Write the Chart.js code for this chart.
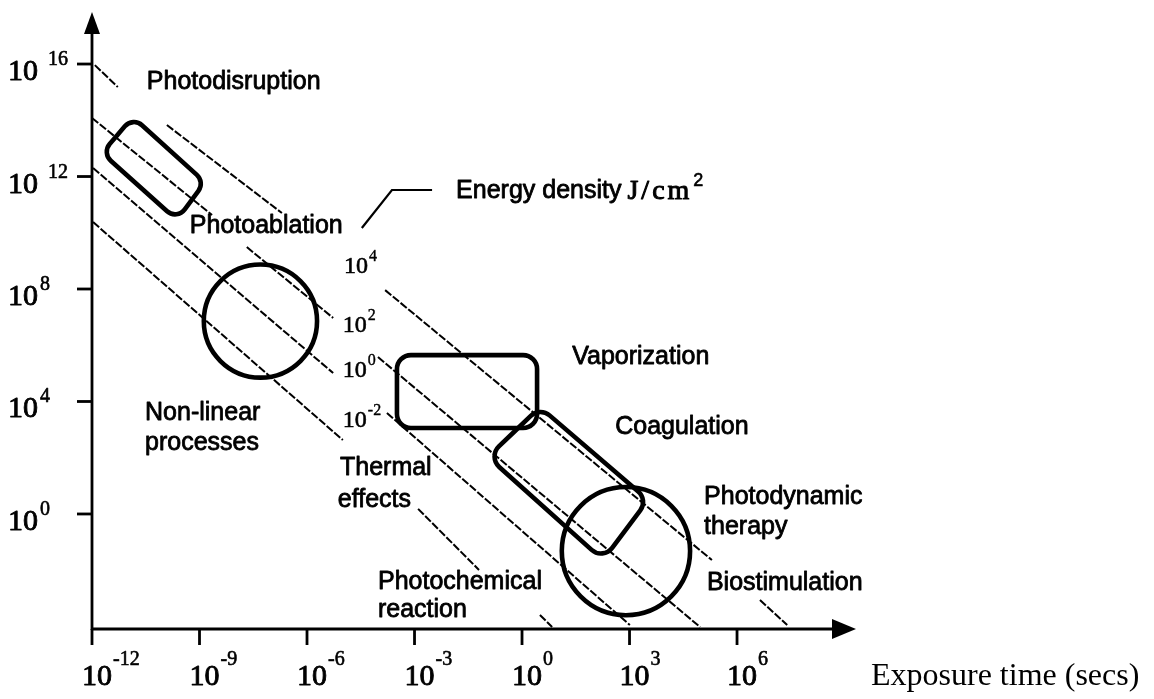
<!DOCTYPE html>
<html lang="en">
<head>
<meta charset="UTF-8" />
<title>Laser-tissue interactions</title>
<script src="https://cdn.jsdelivr.net/npm/chart.js"></script>
<style>
  html, body { margin: 0; padding: 0; background: #fff; }
</style>
</head>
<body>
<canvas id="grafico" width="1154" height="699"></canvas>

<script>
  // 1. Dados (todos em log10)
  const tempoTicks = [-12, -9, -6, -3, 0, 3, 6]
  const potenciaTicks = [0, 4, 8, 12, 16]
  const tempoMin = -12
  const tempoMax = 9.32
  const potenciaMin = -4.09
  const potenciaMax = 17.85

  // linhas de energia constante: [t1, p1, t2, p2]
  const linhasEnergia = [
    [-11.92, 15.96, -11.28, 15.18],
    [-9.91, 13.83, -6.70, 10.70],
    [-12.0, 14.08, -8.65, 10.63],
    [-7.68, 9.49, -5.27, 6.97],
    [-11.97, 12.30, -5.27, 5.01],
    [-11.97, 10.38, -5.00, 2.63],
    [-3.82, 7.96, 5.30, -1.64],
    [6.64, -3.06, 7.40, -3.95],
    [-4.02, 5.58, 4.97, -4.02],
    [-3.77, 3.59, 3.01, -3.95],
    [-2.90, 0.18, -1.20, -1.99],
    [0.50, -3.59, 0.84, -4.02]
  ]
  // linha indicadora de "Energy density"
  const linhaIndicador = [[-4.47, 10.17], [-3.63, 11.52], [-2.51, 11.52]]

  const energiaExpoentes = ["4", "2", "0", "-2"]
  const energiaPos = [[-4.97, 8.57], [-5.00, 6.47], [-5.00, 4.87], [-5.00, 3.09]]

  // caixas arredondadas (cantos em log10)
  const caixaFotoablacao = [[-10.86, 14.12], [-8.85, 11.80], [-9.63, 10.45], [-11.72, 12.84]]
  const caixaVaporizacao = [[-3.49, 5.65], [0.42, 5.65], [0.42, 3.06], [-3.49, 3.06]]
  const caixaCoagulacao = [[0.50, 3.80], [3.52, 0.50], [2.26, -1.64], [-0.95, 2.03]]

  // circulos: [t centro, p centro, raio em decadas de t, raio em decadas de p]
  const circuloNaoLinear = [-7.30, 6.86, 1.58, 2.01]
  const circuloFotodinamica = [2.90, -1.32, 1.79, 2.28]

  const rotulos = ["Photodisruption", "Photoablation", "Non-linear", "processes", "Vaporization",
    "Coagulation", "Thermal", "effects", "Photochemical", "reaction", "Photodynamic", "therapy", "Biostimulation"]
  const rotulosPos = [[-10.47, 15.36], [-9.27, 10.24], [-10.52, 3.59], [-10.52, 2.52], [1.40, 5.58],
    [2.60, 3.09], [-5.08, 1.64], [-5.14, 0.50], [-4.02, -2.42], [-4.02, -3.41], [5.08, 0.60], [5.08, -0.46], [5.16, -2.45]]

  // 2. Datasets das linhas
  const datasets = []
  for (let i = 0; i < linhasEnergia.length; i++) {
    const l = linhasEnergia[i]
    datasets.push({
      data: [{ x: l[0], y: l[1] }, { x: l[2], y: l[3] }],
      showLine: true,
      borderColor: "#000",
      borderWidth: 2,
      borderDash: [8, 2],
      pointRadius: 0
    })
  }
  datasets.push({
    data: linhaIndicador.map(function (p) { return { x: p[0], y: p[1] } }),
    showLine: true,
    borderColor: "#000",
    borderWidth: 2.2,
    pointRadius: 0
  })

  const SANS = "'Liberation Sans', Arial, sans-serif"
  const SERIF = "'Liberation Serif', 'Times New Roman', serif"

  function caixaArredondada(ctx, pts, r) {
    const n = pts.length
    ctx.beginPath()
    ctx.moveTo((pts[n - 1].x + pts[0].x) / 2, (pts[n - 1].y + pts[0].y) / 2)
    for (let i = 0; i < n; i++) {
      const p = pts[i]
      const q = pts[(i + 1) % n]
      ctx.arcTo(p.x, p.y, q.x, q.y, r)
    }
    ctx.closePath()
    ctx.stroke()
  }

  // texto "engrossado" para imitar a digitalizacao
  function texto(ctx, s, x, y, peso) {
    ctx.fillText(s, x, y)
    ctx.lineWidth = peso
    ctx.strokeText(s, x, y)
  }

  // 3. Plugin que desenha eixos, formas e textos
  const desenhos = {
    id: "desenhos",
    afterDatasetsDraw: function (chart) {
      const ctx = chart.ctx
      const xs = chart.scales.x
      const ys = chart.scales.y
      const px = function (v) { return xs.getPixelForValue(v) }
      const py = function (v) { return ys.getPixelForValue(v) }
      const eixoX = px(tempoMin)
      const eixoY = py(potenciaMin)
      const topo = py(potenciaMax)
      const fim = px(tempoMax)

      ctx.save()
      ctx.strokeStyle = "#000"
      ctx.fillStyle = "#000"
      ctx.lineCap = "round"
      ctx.lineJoin = "round"

      // formas
      ctx.lineWidth = 4.6
      const caixas = [[caixaFotoablacao, 12], [caixaVaporizacao, 14], [caixaCoagulacao, 14]]
      for (let i = 0; i < caixas.length; i++) {
        const pts = caixas[i][0].map(function (c) { return { x: px(c[0]), y: py(c[1]) } })
        caixaArredondada(ctx, pts, caixas[i][1])
      }
      const circulos = [circuloNaoLinear, circuloFotodinamica]
      for (let i = 0; i < circulos.length; i++) {
        const c = circulos[i]
        const cx = px(c[0])
        const cy = py(c[1])
        ctx.beginPath()
        ctx.ellipse(cx, cy, px(c[0] + c[2]) - cx, cy - py(c[1] + c[3]), 0, 0, Math.PI * 2)
        ctx.stroke()
      }

      // eixos
      ctx.lineWidth = 2.8
      ctx.lineCap = "butt"
      ctx.beginPath()
      ctx.moveTo(eixoX, eixoY + 1)
      ctx.lineTo(eixoX, topo + 15)
      ctx.moveTo(eixoX - 1, eixoY)
      ctx.lineTo(fim - 15, eixoY)
      ctx.stroke()
      ctx.beginPath()
      ctx.moveTo(eixoX, topo)
      ctx.lineTo(eixoX - 8, topo + 22)
      ctx.lineTo(eixoX + 8, topo + 22)
      ctx.closePath()
      ctx.fill()
      ctx.beginPath()
      ctx.moveTo(fim, eixoY)
      ctx.lineTo(fim - 24, eixoY - 10)
      ctx.lineTo(fim - 24, eixoY + 10)
      ctx.closePath()
      ctx.fill()

      // ticks e rotulos do eixo x
      ctx.textBaseline = "alphabetic"
      ctx.textAlign = "left"
      for (let i = 0; i < tempoTicks.length; i++) {
        const tx = px(tempoTicks[i])
        ctx.lineWidth = 2.8
        ctx.beginPath()
        ctx.moveTo(tx, eixoY)
        ctx.lineTo(tx, eixoY + 16)
        ctx.stroke()
        ctx.font = "30px " + SERIF
        texto(ctx, "10", tx - 10, eixoY + 56, 0.9)
        const w = ctx.measureText("10").width
        ctx.font = "20px " + SERIF
        texto(ctx, String(tempoTicks[i]), tx - 10 + w + 1, eixoY + 36, 0.6)
      }

      // ticks e rotulos do eixo y
      for (let i = 0; i < potenciaTicks.length; i++) {
        const ty = py(potenciaTicks[i])
        ctx.lineWidth = 2.8
        ctx.beginPath()
        ctx.moveTo(eixoX - 15, ty)
        ctx.lineTo(eixoX, ty)
        ctx.stroke()
        ctx.font = "30px " + SERIF
        texto(ctx, "10", eixoX - 84, ty + 16, 0.9)
        const w = ctx.measureText("10").width
        ctx.font = "20px " + SERIF
        const gap = potenciaTicks[i] >= 10 ? 10 : 2
        texto(ctx, String(potenciaTicks[i]), eixoX - 84 + w + gap, ty + 1, 0.6)
      }

      ctx.font = "32px " + SERIF
      ctx.fillText("Exposure time (secs)", 871, eixoY + 56)

      // rotulos de energia
      for (let i = 0; i < energiaExpoentes.length; i++) {
        const x = px(energiaPos[i][0])
        const y = py(energiaPos[i][1])
        ctx.font = "24px " + SERIF
        texto(ctx, "10", x, y, 0.6)
        const w = ctx.measureText("10").width
        ctx.font = "16px " + SERIF
        texto(ctx, energiaExpoentes[i], x + w + 1, y - 12, 0.4)
      }

      // rotulos das regioes
      ctx.textBaseline = "middle"
      ctx.font = "25px " + SANS
      for (let i = 0; i < rotulos.length; i++) {
        texto(ctx, rotulos[i], px(rotulosPos[i][0]), py(rotulosPos[i][1]), 0.8)
      }

      // Energy density J/cm2
      const ex = px(-1.84)
      const ey = py(11.48)
      texto(ctx, "Energy density", ex, ey, 0.8)
      const we = ctx.measureText("Energy density").width
      ctx.font = "28px " + SERIF
      ctx.letterSpacing = "3px"
      texto(ctx, "J/cm", ex + we + 6, ey + 1, 1)
      const wj = ctx.measureText("J/cm").width
      ctx.letterSpacing = "0px"
      ctx.font = "18px " + SANS
      texto(ctx, "2", ex + we + 6 + wj + 1, ey - 10, 0.6)

      ctx.restore()
    }
  }

  // 4. Grafico
  new Chart(document.getElementById("grafico").getContext("2d"), {
    type: "scatter",
    data: { datasets: datasets },
    options: {
      responsive: false,
      animation: false,
      layout: { padding: { left: 92, right: 298, top: 12, bottom: 70 } },
      scales: {
        x: { type: "linear", min: tempoMin, max: tempoMax, display: false },
        y: { type: "linear", min: potenciaMin, max: potenciaMax, display: false }
      },
      plugins: { legend: { display: false }, tooltip: { enabled: false } }
    },
    plugins: [desenhos]
  })
</script>
</body>
</html>
